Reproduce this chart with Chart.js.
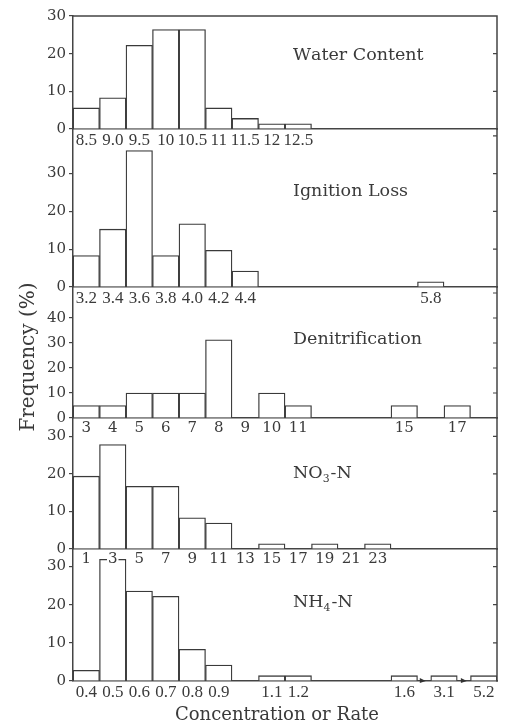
<!DOCTYPE html>
<html>
<head>
<meta charset="utf-8">
<script src="https://cdn.jsdelivr.net/npm/chart.js@4.4.1/dist/chart.umd.min.js"></script>
<style>
html,body{margin:0;padding:0;background:#fff;}
#wrap{position:relative;width:508px;height:725px;overflow:hidden;}
#wrap canvas{position:absolute;left:0;top:0;}
</style>
</head>
<body>
<div id="wrap"></div>
<script>
// ---------------- data ----------------
// Water Content
const waterLabels = ['8.5','9.0','9.5','10','10.5','11','11.5','12','12.5'];
const waterSlots  = [0,1,2,3,4,5,6,7,8];
const waterValues = [5.6,8.3,22.2,26.4,26.4,5.6,2.8,1.4,1.4];
// Ignition Loss
const ignitionLabels = ['3.2','3.4','3.6','3.8','4.0','4.2','4.4','5.8'];
const ignitionSlots  = [0,1,2,3,4,5,6,13];
const ignitionValues = [8.3,15.3,36.1,8.3,16.7,9.7,4.2,1.4];
// Denitrification
const denitLabels = ['3','4','5','6','7','8','9','10','11','15','17'];
const denitSlots  = [0,1,2,3,4,5,6,7,8,12,14];
const denitValues = [5,5,10,10,10,31.3,0,10,5,5,5];
// NO3-N
const no3Labels = ['1','3','5','7','9','11','13','15','17','19','21','23'];
const no3Slots  = [0,1,2,3,4,5,6,7,8,9,10,11];
const no3Values = [19.4,27.8,16.7,16.7,8.3,6.9,0,1.4,0,1.4,0,1.4];
// NH4-N
const nh4Labels = ['0.4','0.5','0.6','0.7','0.8','0.9','1.1','1.2','1.6','3.1','5.2'];
const nh4Slots  = [0,1,2,3,4,5,7,8,12,13.5,15];
const nh4Values = [2.8,31.9,23.6,22.2,8.3,4.2,1.4,1.4,1.4,1.4,1.4];
// y tick labels per panel
const waterYTicks = [0,10,20,30];
const ignitionYTicks = [0,10,20,30];
const denitYTicks = [0,10,20,30,40];
const no3YTicks = [0,10,20,30];
const nh4YTicks = [0,10,20,30];
// titles ("_x" marks a subscript character)
const panelTitles = ['Water Content','Ignition Loss','Denitrification','NO_3-N','NH_4-N'];
const yTitle = 'Frequency (%)';
const xTitle = 'Concentration or Rate';

// ---------------- layout / style ----------------
const W = 508, H = 725, XAXIS_H = 34;
const INK = '#3a3a3a', LINE = '#444';
const fontNarrow = {family:'"Liberation Serif", serif', size:17, lineHeight:1};
const fontWide = {family:'"DejaVu Serif", serif', size:15};
const fontWideX = {family:'"DejaVu Serif", serif', size:15, lineHeight:1};

const panels = [
  {labels:waterLabels, slots:waterSlots, values:waterValues, yTicks:waterYTicks, title:panelTitles[0],
   max:30, top:16, bottom:129, titleY:60, xFont:fontNarrow, first:true},
  {labels:ignitionLabels, slots:ignitionSlots, values:ignitionValues, yTicks:ignitionYTicks, title:panelTitles[1],
   max:41.8, top:129, bottom:287, titleY:196, xFont:fontNarrow},
  {labels:denitLabels, slots:denitSlots, values:denitValues, yTicks:denitYTicks, title:panelTitles[2],
   max:52.4, top:287, bottom:418, titleY:344, xFont:fontWideX},
  {labels:no3Labels, slots:no3Slots, values:no3Values, yTicks:no3YTicks, title:panelTitles[3],
   max:34.9, top:418, bottom:549, titleY:478, xFont:fontWideX, backdrop:true},
  {labels:nh4Labels, slots:nh4Slots, values:nh4Values, yTicks:nh4YTicks, title:panelTitles[4],
   max:34.6, top:549, bottom:681, titleY:607, xFont:fontNarrow, last:true, breaks:[13.2,14.75]}
];

function drawRichText(ctx, text, x, y, size) {
  // supports "_c" subscripts
  let cx = x;
  for (let i = 0; i < text.length; i++) {
    if (text[i] === '_' && i + 1 < text.length) {
      ctx.font = (size * 0.62) + 'px "DejaVu Serif", serif';
      ctx.fillText(text[i+1], cx, y + size * 0.22);
      cx += ctx.measureText(text[i+1]).width + 1;
      i++;
    } else {
      ctx.font = size + 'px "DejaVu Serif", serif';
      ctx.fillText(text[i], cx, y);
      cx += ctx.measureText(text[i]).width;
    }
  }
}

const framePlugin = {
  id: 'frame',
  afterDraw(chart, args, opts) {
    const P = opts.panel;
    const {ctx, chartArea: a} = chart;
    const y = chart.scales.y, x = chart.scales.x;
    ctx.save();
    ctx.strokeStyle = LINE;
    ctx.lineWidth = 1.5;
    ctx.beginPath();
    ctx.moveTo(a.right, a.top); ctx.lineTo(a.right, a.bottom + 0.75);
    if (P.first) { ctx.moveTo(a.left - 0.75, a.top); ctx.lineTo(a.right + 0.75, a.top); }
    ctx.stroke();
    // inward ticks on right border
    ctx.lineWidth = 1.2;
    ctx.beginPath();
    for (let v = 10; v < P.max; v += 10) {
      const py = y.getPixelForValue(v);
      ctx.moveTo(a.right, py); ctx.lineTo(a.right - 4, py);
    }
    ctx.stroke();
    // panel title
    ctx.fillStyle = INK;
    ctx.textBaseline = 'alphabetic';
    ctx.textAlign = 'left';
    drawRichText(ctx, P.title, 293, P.titleY, 17.5);
    // break marks
    if (P.breaks) {
      ctx.fillStyle = '#333';
      P.breaks.forEach(b => {
        const px = x.getPixelForValue(b), py = y.getPixelForValue(0);
        ctx.beginPath();
        ctx.moveTo(px - 3, py - 3); ctx.lineTo(px + 3, py); ctx.lineTo(px - 3, py + 2);
        ctx.closePath(); ctx.fill();
      });
    }
    // axis titles
    if (P.last) {
      ctx.fillStyle = INK;
      ctx.font = '18px "DejaVu Serif", serif';
      ctx.textAlign = 'center';
      ctx.fillText(xTitle, 277, 720);
      ctx.save();
      ctx.translate(34, 357);
      ctx.rotate(-Math.PI / 2);
      ctx.font = '20px "DejaVu Serif", serif';
      ctx.fillText(yTitle, 0, 0);
      ctx.restore();
    }
    ctx.restore();
  }
};

const wrap = document.getElementById('wrap');
panels.forEach((P, idx) => {
  const cv = document.createElement('canvas');
  cv.width = W; cv.height = H;
  cv.style.zIndex = String(10 - idx);
  wrap.appendChild(cv);
  new Chart(cv.getContext('2d'), {
    type: 'bar',
    data: {
      datasets: [{
        data: P.slots.map((s, i) => ({x: s + 0.5, y: P.values[i]})),
        backgroundColor: '#ffffff',
        borderColor: INK,
        borderWidth: 1.3,
        borderSkipped: 'start',
        barPercentage: 1,
        categoryPercentage: 1
      }]
    },
    options: {
      responsive: false,
      animation: false,
      devicePixelRatio: 1,
      layout: {autoPadding: false, padding: {top: P.top, bottom: H - P.bottom - XAXIS_H, left: 0, right: 11}},
      plugins: {legend: {display: false}, tooltip: {enabled: false}, frame: {panel: P}},
      scales: {
        x: {
          type: 'linear', min: 0, max: 16, offset: false,
          afterBuildTicks: s => { s.ticks = P.slots.map(v => ({value: v + 0.5})); },
          afterFit: s => { s.height = XAXIS_H; s.paddingLeft = 0; s.paddingRight = 0; },
          grid: {display: false, offset: false},
          border: {display: true, color: LINE, width: 1.5},
          ticks: {
            autoSkip: false, maxRotation: 0, minRotation: 0, padding: -5,
            color: INK, font: P.xFont,
            callback: (v, i) => P.labels[i],
            showLabelBackdrop: !!P.backdrop,
            backdropColor: '#ffffff',
            backdropPadding: {top: 0, bottom: 0, left: 1, right: 1}
          }
        },
        y: {
          min: 0, max: P.max,
          afterBuildTicks: s => { s.ticks = P.yTicks.map(v => ({value: v})); },
          afterFit: s => { s.width = 73; s.paddingTop = 0; s.paddingBottom = 0; },
          grid: {drawOnChartArea: false, drawTicks: true, tickLength: 4, color: LINE, lineWidth: 1.2},
          border: {display: true, color: LINE, width: 1.5},
          ticks: {color: INK, font: fontWide, padding: 3}
        }
      }
    },
    plugins: [framePlugin]
  });
});
</script>
</body>
</html>
